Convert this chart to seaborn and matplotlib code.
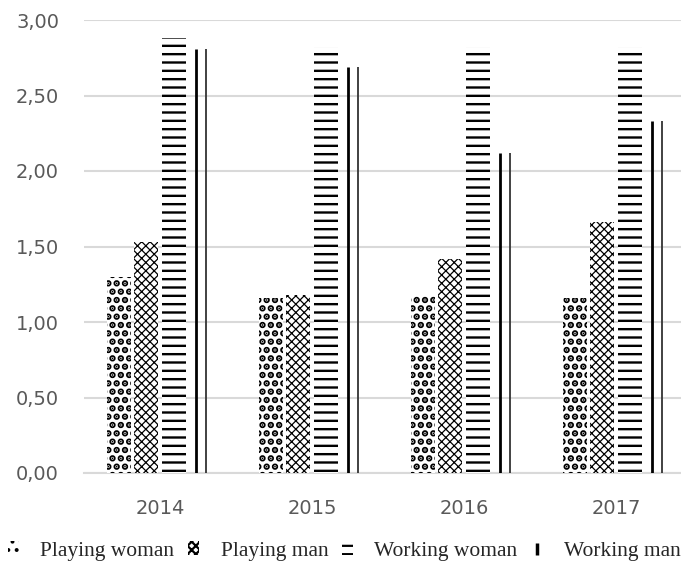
import matplotlib
matplotlib.use("Agg")
import matplotlib.pyplot as plt
from matplotlib.patches import Patch
from matplotlib.lines import Line2D
import seaborn as sns
import pandas as pd

# Values per year for each group
years = ["2014", "2015", "2016", "2017"]
groups = ["Playing woman", "Playing man", "Working woman", "Working man"]
playing_woman = [1.30, 1.16, 1.18, 1.16]
playing_man = [1.53, 1.18, 1.42, 1.66]
working_woman = [2.88, 2.82, 2.82, 2.82]
working_man = [2.81, 2.69, 2.12, 2.33]
y_ticks = [0.0, 0.5, 1.0, 1.5, 2.0, 2.5, 3.0]

series = [playing_woman, playing_man, working_woman, working_man]
df = pd.DataFrame(
    [(yr, g, v) for g, vals in zip(groups, series) for yr, v in zip(years, vals)],
    columns=["year", "group", "value"],
)

sns.set_theme(style="white")
plt.rcParams["hatch.linewidth"] = 1.6

fig = plt.figure(figsize=(6.81, 5.64), dpi=100)
ax = fig.add_axes([84 / 681, 1 - 473 / 564, 608 / 681, 453 / 564])

sns.barplot(
    data=df, x="year", y="value", hue="group", order=years, hue_order=groups,
    palette=["white"] * 4, edgecolor="black", linewidth=0,
    width=0.72, gap=0.12, saturation=1, legend=False, ax=ax, zorder=3,
)

# hatch style per group: (pattern, hatch line width)
styles = [("..", 3.3), ("xxxx", 0.9), ("--", 1.7), (None, None)]


def apply_hatch(patch, pattern, hlw):
    patch.set_hatch(pattern)
    if hasattr(patch, "set_hatch_linewidth"):
        patch.set_hatch_linewidth(hlw)


for cont, (h, hlw) in zip(ax.containers, styles):
    for p in cont.patches:
        if h is None:
            # working man: two thin vertical strokes inside each bar
            p.set_visible(False)
            x0, w, top = p.get_x(), p.get_width(), p.get_height()
            ax.vlines(x0 + 0.30 * w, 0, top, color="black", lw=2.0, zorder=4)
            ax.vlines(x0 + 0.70 * w, 0, top, color="#333333", lw=1.3, zorder=4)
        else:
            apply_hatch(p, h, hlw)

ax.set_ylim(0, 3.0)
ax.set_xlim(-0.5, 3.5)
ax.set_yticks(y_ticks)
ax.set_yticklabels([f"{t:.2f}".replace(".", ",") for t in y_ticks])
ax.yaxis.grid(True, color="#d9d9d9", lw=1.5, zorder=0)
ax.xaxis.grid(False)
for s in ["left", "right", "top"]:
    ax.spines[s].set_visible(False)
ax.spines["bottom"].set_color("#d9d9d9")
ax.spines["bottom"].set_linewidth(1.5)
ax.tick_params(axis="both", length=0, colors="#595959", labelsize=14)
ax.tick_params(axis="x", pad=19)
ax.tick_params(axis="y", pad=18)
for lab in ax.get_xticklabels() + ax.get_yticklabels():
    lab.set_fontfamily("DejaVu Sans")
ax.set_xlabel("")
ax.set_ylabel("")

handles = []
for h, hlw in styles[:3]:
    hp = Patch(facecolor="white", edgecolor="black", lw=0)
    apply_hatch(hp, h, hlw)
    handles.append(hp)
handles.append(Line2D([], [], marker="|", ms=9, mew=2.5, ls="none", color="black"))

fig.legend(
    handles, groups, loc="center left", bbox_to_anchor=(8 / 681, 13 / 564), ncol=4,
    frameon=False, handlelength=0.5, handleheight=0.6, handletextpad=1.0,
    columnspacing=0.65, borderpad=0, borderaxespad=0,
    prop={"family": "Liberation Serif", "size": 15.5},
)

fig.savefig("out.png", dpi=100, facecolor="white")
